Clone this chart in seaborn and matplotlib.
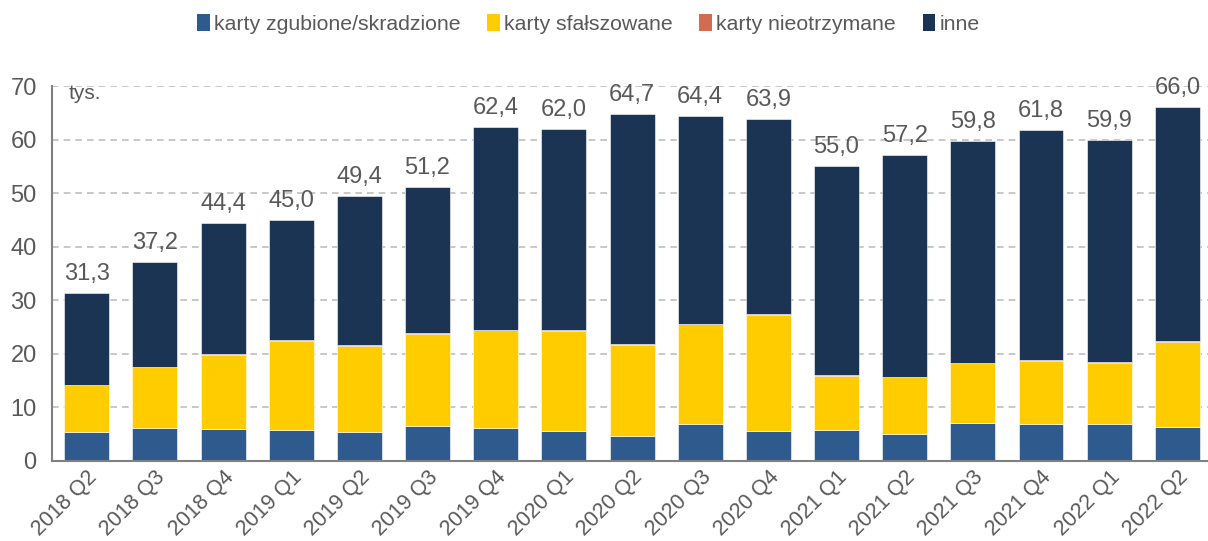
import matplotlib
matplotlib.use("Agg")
import matplotlib.pyplot as plt
import seaborn as sns
import numpy as np
from matplotlib.patches import Patch

quarters = ["2018 Q2", "2018 Q3", "2018 Q4", "2019 Q1", "2019 Q2", "2019 Q3",
            "2019 Q4", "2020 Q1", "2020 Q2", "2020 Q3", "2020 Q4", "2021 Q1",
            "2021 Q2", "2021 Q3", "2021 Q4", "2022 Q1", "2022 Q2"]
zgubione = [5.4, 6.2, 6.0, 5.8, 5.4, 6.6, 6.1, 5.5, 4.6, 6.9, 5.5, 5.7,
            5.1, 7.1, 6.9, 6.9, 6.3]
sfalszowane = [8.7, 11.3, 13.8, 16.6, 16.1, 17.1, 18.3, 18.8, 17.1, 18.6, 21.7, 10.2,
               10.5, 11.1, 11.8, 11.4, 15.9]
nieotrzymane = [0.1, 0.1, 0.1, 0.1, 0.1, 0.1, 0.1, 0.1, 0.1, 0.1, 0.3, 0.1,
                0.1, 0.1, 0.1, 0.1, 0.1]
totals = [31.3, 37.2, 44.4, 45.0, 49.4, 51.2, 62.4, 62.0, 64.7, 64.4, 63.9, 55.0,
          57.2, 59.8, 61.8, 59.9, 66.0]
inne = [t - a - b - c for t, a, b, c in zip(totals, zgubione, sfalszowane, nieotrzymane)]

labels = ["karty zgubione/skradzione", "karty sfałszowane", "karty nieotrzymane", "inne"]
colors = ["#2F5A8E", "#FFCC00", "#D46A4F", "#1C3454"]
grey = "#595959"

sns.set_theme(style="white")
plt.rcParams["font.family"] = ["Liberation Sans", "DejaVu Sans"]

fig, ax = plt.subplots(figsize=(12.08, 5.41), dpi=100)
fig.subplots_adjust(left=0.043, right=1.0, top=0.841, bottom=0.148)

# stacked bars: each series sits on top of the previous ones
series = [zgubione, sfalszowane, nieotrzymane, inne]
bottom = np.zeros(len(quarters))
for vals, col in zip(series, colors):
    sns.barplot(x=quarters, y=vals, bottom=bottom, color=col, width=0.66,
                saturation=1, edgecolor="white", linewidth=0.4, ax=ax)
    bottom = bottom + np.array(vals)

for i, t in enumerate(totals):
    ax.text(i, t + 1.5, f"{t:.1f}".replace(".", ","), ha="center", va="bottom",
            fontsize=17, color=grey)

ax.set_ylim(0, 70)
ax.set_xlim(-0.51, 16.45)
ax.set_yticks(range(0, 71, 10))
ax.yaxis.grid(True, linestyle=(0, (4, 3)), color="#BFBFBF", linewidth=1.2)
ax.set_axisbelow(True)
for s in ["top", "right"]:
    ax.spines[s].set_visible(False)
for s in ["left", "bottom"]:
    ax.spines[s].set_color("#808080")
    ax.spines[s].set_linewidth(1.5)
ax.tick_params(axis="y", labelsize=17, labelcolor=grey, length=0, pad=11)
ax.tick_params(axis="x", labelsize=15.5, labelcolor=grey, length=0, pad=4)
plt.setp(ax.get_xticklabels(), rotation=45, ha="right", rotation_mode="anchor")

ax.text(0.014, 1.005, "tys.", transform=ax.transAxes, fontsize=15, color=grey,
        ha="left", va="top")

handles = [Patch(facecolor=c, edgecolor="none") for c in colors]
fig.legend(handles, labels, loc="upper center", bbox_to_anchor=(0.487, 1.01), ncol=4,
           frameon=False, fontsize=15.3, handlelength=0.6, handleheight=0.9,
           handletextpad=0.2, columnspacing=1.25, labelcolor=grey)

fig.savefig("out.png", dpi=100)
